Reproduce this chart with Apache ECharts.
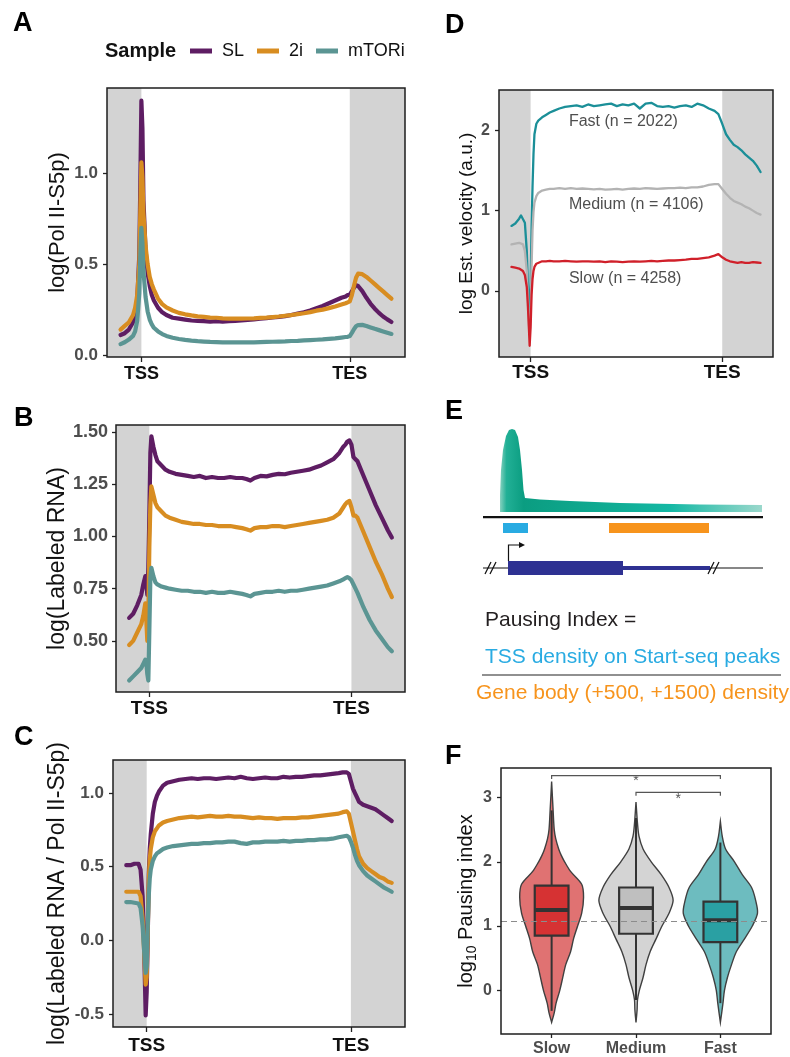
<!DOCTYPE html>
<html>
<head>
<meta charset="utf-8">
<script src="https://cdn.jsdelivr.net/npm/echarts@6/dist/echarts.min.js"></script>
<style>
  html, body { margin: 0; padding: 0; background: #ffffff; }
  #chart { width: 790px; height: 1057px; }
</style>
</head>
<body>
<div id="chart"></div>
<script>
const FONT = '"Liberation Sans", Arial, Helvetica, sans-serif';

// ---- Metagene coordinates: TSS = 0, TES = 100 (scaled gene body) ----
const X_MIN = -16.5, X_MAX = 126.5;
const edgeTicks = [0, 100];
const edgeLabels = ['TSS', 'TES'];
const flankStart = [X_MIN, 100];
const flankEnd = [0, X_MAX];
const samples = ['SL', '2i', 'mTORi'];
const sampleColors = ['#5e1d63', '#d88d21', '#5b9593'];

// Panel A: Pol II-S5p
const posA = [-10,-8,-6,-4,-3,-2,-1,-0.5,0,0.5, 1,2,3,4,5,6,8,10,12,15, 18,21,24,27,30,33,36,39,42,45, 48,51,54,57,60,63,66,69,72,75, 78,81,84,87,90,93,96,98,99,100, 101,102,103,104,106,108,110,112,114,116, 118,120];
const polA_SL = [0.11,0.12,0.14,0.18,0.22,0.30,0.55,0.95,1.40,1.25, 0.85,0.58,0.45,0.38,0.33,0.30,0.26,0.235,0.22,0.205, 0.20,0.195,0.19,0.188,0.186,0.184,0.186,0.183,0.186,0.188, 0.19,0.193,0.196,0.2,0.203,0.207,0.21,0.214,0.22,0.228, 0.235,0.245,0.258,0.27,0.285,0.30,0.315,0.322,0.33,0.332, 0.35,0.37,0.385,0.38,0.352,0.315,0.282,0.255,0.232,0.212, 0.196,0.182];
const polA_2i = [0.14,0.16,0.18,0.22,0.26,0.33,0.50,0.80,1.06,0.98, 0.78,0.60,0.50,0.43,0.39,0.36,0.31,0.28,0.262,0.245, 0.232,0.224,0.218,0.213,0.21,0.206,0.205,0.202,0.2,0.201, 0.2,0.201,0.202,0.204,0.206,0.209,0.212,0.216,0.22,0.225, 0.23,0.236,0.244,0.25,0.258,0.267,0.278,0.285,0.29,0.295, 0.33,0.38,0.425,0.448,0.445,0.43,0.41,0.39,0.37,0.35, 0.33,0.31];
const polA_mT = [0.06,0.07,0.085,0.105,0.13,0.19,0.34,0.55,0.70,0.62, 0.46,0.32,0.24,0.195,0.168,0.15,0.13,0.115,0.105,0.095, 0.088,0.083,0.079,0.076,0.074,0.072,0.071,0.07,0.07,0.07, 0.07,0.07,0.07,0.071,0.072,0.073,0.074,0.075,0.077,0.078, 0.08,0.082,0.084,0.086,0.089,0.092,0.096,0.099,0.1,0.104, 0.122,0.142,0.158,0.165,0.166,0.16,0.152,0.144,0.137,0.13, 0.123,0.116];

// Panel B: labeled RNA
const posB = [-10,-8,-6,-4,-3,-2,-1.5,-1,-0.5,0, 0.5,1,2,3,4,6,8,10,13,16, 19,22,25,28,31,34,37,40,43,46, 48,50,52,55,58,61,64,67,70,73, 76,79,82,85,88,91,94,96,97,98, 99,100,101,102,103,106,109,112,115,118, 120];
const rnaB_SL = [0.61,0.63,0.67,0.72,0.77,0.81,0.78,0.72,0.85,1.10, 1.40,1.48,1.43,1.39,1.36,1.34,1.32,1.31,1.30,1.295, 1.29,1.285,1.29,1.28,1.285,1.28,1.28,1.285,1.28,1.28, 1.275,1.268,1.28,1.29,1.288,1.295,1.30,1.298,1.305,1.31, 1.315,1.32,1.33,1.34,1.355,1.37,1.40,1.43,1.44,1.455, 1.46,1.44,1.38,1.37,1.36,1.29,1.22,1.15,1.09,1.03, 0.995];
const rnaB_2i = [0.48,0.50,0.54,0.58,0.62,0.68,0.60,0.50,0.62,0.95, 1.15,1.24,1.20,1.16,1.14,1.12,1.10,1.09,1.08,1.07, 1.065,1.06,1.06,1.055,1.055,1.05,1.05,1.05,1.045,1.04, 1.035,1.028,1.04,1.045,1.045,1.05,1.05,1.045,1.05,1.055, 1.06,1.065,1.07,1.075,1.08,1.09,1.11,1.14,1.155,1.165, 1.17,1.14,1.10,1.10,1.09,1.02,0.95,0.88,0.82,0.75, 0.71];
const rnaB_mT = [0.31,0.33,0.35,0.37,0.39,0.41,0.40,0.34,0.31,0.55, 0.80,0.85,0.81,0.78,0.77,0.76,0.755,0.75,0.745,0.74, 0.74,0.735,0.735,0.73,0.735,0.73,0.73,0.735,0.73,0.725, 0.72,0.713,0.725,0.73,0.735,0.735,0.74,0.735,0.74,0.74, 0.745,0.75,0.755,0.76,0.765,0.775,0.785,0.795,0.80,0.805, 0.80,0.79,0.77,0.75,0.73,0.66,0.60,0.55,0.51,0.47, 0.45];

// Panel C: labeled RNA / Pol II-S5p
const posC = [-10,-8,-6,-4,-3,-2,-1.5,-1,-0.5,0, 0.5,1,1.5,2,3,4,5,6,8,10, 13,16,19,22,25,28,31,34,37,40, 43,46,49,52,55,58,61,64,67,70, 73,76,79,82,85,88,91,94,96,98, 99,100,101,102,103,104,106,108,110,112, 114,116,118,120];
const ratC_SL = [0.51,0.51,0.52,0.52,0.48,0.30,0.10,-0.2,-0.51,-0.35, 0.0,0.45,0.62,0.72,0.86,0.94,0.98,1.01,1.05,1.07, 1.08,1.09,1.095,1.10,1.095,1.10,1.10,1.095,1.10,1.105, 1.10,1.11,1.10,1.095,1.10,1.105,1.10,1.10,1.11,1.105, 1.11,1.11,1.115,1.12,1.12,1.125,1.13,1.135,1.14,1.14, 1.13,1.08,1.03,1.00,0.97,0.94,0.92,0.91,0.90,0.89, 0.87,0.85,0.83,0.81];
const ratC_2i = [0.33,0.33,0.33,0.33,0.30,0.15,0.0,-0.15,-0.30,-0.25, 0.05,0.40,0.55,0.62,0.70,0.74,0.76,0.78,0.80,0.81, 0.82,0.83,0.835,0.84,0.835,0.84,0.845,0.84,0.84,0.845, 0.84,0.84,0.835,0.83,0.835,0.83,0.83,0.825,0.83,0.83, 0.83,0.835,0.835,0.84,0.845,0.85,0.855,0.86,0.87,0.875, 0.86,0.80,0.74,0.68,0.62,0.57,0.52,0.49,0.47,0.45, 0.43,0.42,0.40,0.39];
const ratC_mT = [0.26,0.26,0.255,0.25,0.22,0.10,-0.02,-0.12,-0.22,-0.18, 0.1,0.30,0.42,0.48,0.54,0.57,0.59,0.60,0.62,0.63, 0.64,0.645,0.65,0.655,0.655,0.66,0.66,0.665,0.665,0.67, 0.67,0.66,0.655,0.665,0.665,0.67,0.67,0.67,0.675,0.67, 0.675,0.675,0.68,0.68,0.685,0.685,0.69,0.70,0.705,0.71, 0.70,0.67,0.63,0.58,0.54,0.51,0.47,0.44,0.42,0.40, 0.38,0.36,0.345,0.33];

// Panel D: estimated elongation velocity by gene class
const velClasses = ['Fast', 'Medium', 'Slow'];
const velColors = ['#1b8f98', '#b3b3b3', '#d0202a'];
const velLabels = ['Fast (n = 2022)', 'Medium (n = 4106)', 'Slow (n = 4258)'];
const velLabelX = [20, 20, 20];
const velLabelY = [2.11, 1.07, 0.15];
const posD = [-10,-8,-6,-5,-4,-3,-2,-1.5,-1,-0.5, 0,0.5,1,1.5,2,3,4,6,8,10, 12,15,18,21,24,27,30,33,36,39, 42,45,48,51,54,57,60,63,66,69, 72,75,78,81,84,87,90,93,96,98, 100,102,104,106,108,110,112,114,116,118, 120];
const velFast = [0.81,0.84,0.90,0.94,0.93,0.85,0.50,0.15,-0.20,-0.28, 0.1,0.8,1.3,1.7,1.95,2.08,2.12,2.16,2.19,2.22, 2.24,2.27,2.29,2.30,2.31,2.29,2.32,2.30,2.31,2.32, 2.33,2.30,2.32,2.31,2.33,2.27,2.33,2.34,2.30,2.29, 2.30,2.28,2.30,2.31,2.29,2.33,2.31,2.27,2.24,2.20, 2.08,1.95,1.88,1.82,1.79,1.75,1.70,1.66,1.62,1.56, 1.48];
const velMed = [0.58,0.59,0.60,0.60,0.58,0.50,0.25,-0.05,-0.40,-0.55, -0.3,0.3,0.75,0.98,1.10,1.18,1.22,1.25,1.26,1.27, 1.27,1.28,1.27,1.28,1.27,1.275,1.27,1.265,1.27,1.26, 1.265,1.27,1.26,1.27,1.275,1.27,1.28,1.275,1.27,1.275, 1.28,1.28,1.285,1.28,1.29,1.29,1.30,1.32,1.33,1.33, 1.27,1.21,1.16,1.12,1.10,1.08,1.05,1.03,1.00,0.97, 0.95];
const velSlow = [0.30,0.29,0.28,0.27,0.25,0.20,0.05,-0.15,-0.40,-0.68, -0.45,-0.05,0.15,0.25,0.30,0.34,0.36,0.37,0.37,0.375, 0.37,0.37,0.375,0.37,0.365,0.37,0.37,0.365,0.37,0.36, 0.37,0.365,0.36,0.365,0.37,0.365,0.37,0.375,0.37,0.375, 0.38,0.38,0.385,0.39,0.40,0.40,0.41,0.42,0.44,0.46, 0.42,0.39,0.37,0.36,0.35,0.36,0.35,0.35,0.36,0.355, 0.35];

// Panel F: pausing index distributions (violin half-widths relative to widest)
const pauseCats = ['Slow', 'Medium', 'Fast'];
const violinFill = ['#e07272', '#d4d4d4', '#6dbcbf'];
const boxFill = ['#d63233', '#bfbfbf', '#2aa0a3'];
const slowLevels = [-0.5,-0.35,-0.2,0,0.2,0.4,0.6,0.8,1.0,1.2,1.45,1.65,1.85,2.0,2.1,2.2,2.36,2.5,2.8,3.25];
const slowDens   = [0,0.07,0.12,0.22,0.30,0.38,0.51,0.59,0.70,0.81,0.86,0.81,0.51,0.35,0.26,0.19,0.11,0.07,0.04,0];
const medLevels  = [-0.5,-0.3,-0.15,0,0.2,0.4,0.6,0.8,1.0,1.2,1.4,1.6,1.8,2.0,2.2,2.4,2.6,2.93];
const medDens    = [0,0.03,0.04,0.09,0.19,0.27,0.38,0.54,0.70,0.89,1.0,0.89,0.68,0.41,0.19,0.08,0.04,0];
const fastLevels = [-0.5,-0.2,0,0.2,0.4,0.6,0.8,1.0,1.2,1.4,1.6,1.8,2.0,2.2,2.4,2.63];
const fastDens   = [0,0.07,0.11,0.19,0.30,0.43,0.65,0.86,1.0,0.95,0.84,0.59,0.38,0.14,0.05,0];
// box stats: lower whisker, Q1, median, Q3, upper whisker
const boxLow  = [-0.32, -0.15, -0.2];
const boxQ1   = [0.85, 0.88, 0.75];
const boxMed  = [1.25, 1.28, 1.09];
const boxQ3   = [1.63, 1.60, 1.38];
const boxHigh = [2.8, 2.68, 2.3];
const pauseRef = 1.07;
// significance brackets: from, to, height, star height
const brFrom = [1, 2];
const brTo = [3, 3];
const brY = [3.34, 3.08];
const brStarY = [3.25, 2.98];

const violinSets = [[slowLevels, slowDens], [medLevels, medDens], [fastLevels, fastDens]];
const VIOLIN_HALF = 0.44;
const BOX_HALF = 0.2;

// ---------- helpers ----------
function zip(xs, ys) { return xs.map((x, i) => [x, ys[i]]); }

function edgeXAxis(gi, fs, margin) {
  return {
    type: 'value', gridIndex: gi, min: X_MIN, max: X_MAX,
    axisLine: { show: false, onZero: false }, splitLine: { show: false },
    axisTick: { show: true, customValues: edgeTicks, length: 5, lineStyle: { color: '#222', width: 1.3 } },
    axisLabel: {
      customValues: edgeTicks, margin: margin,
      formatter: v => edgeLabels[edgeTicks.indexOf(v)],
      fontFamily: FONT, fontWeight: 'bold', fontSize: fs, color: '#111'
    }
  };
}

function valueYAxis(gi, min, max, ticks, digits, fs, margin, name, nameFs, nameGap, rich) {
  const ax = {
    type: 'value', gridIndex: gi, min: min, max: max,
    axisLine: { show: false, onZero: false }, splitLine: { show: false },
    axisTick: { show: true, customValues: ticks, length: 4, lineStyle: { color: '#222', width: 1.3 } },
    axisLabel: {
      customValues: ticks, margin: margin,
      formatter: v => v.toFixed(digits),
      fontFamily: FONT, fontWeight: 'bold', fontSize: fs, color: '#4d4d4d'
    },
    name: name, nameLocation: 'middle', nameGap: nameGap,
    nameTextStyle: { fontFamily: FONT, fontSize: nameFs, color: '#111' }
  };
  if (rich) ax.nameTextStyle.rich = rich;
  return ax;
}

// grey flanks (upstream of TSS, downstream of TES)
function flankSeries(gi, yMin, yMax) {
  return {
    type: 'custom', name: 'flank' + gi, xAxisIndex: gi, yAxisIndex: gi, z: 1, silent: true,
    data: flankStart.map((s, i) => [s, flankEnd[i]]),
    renderItem: function (params, api) {
      const a = api.coord([api.value(0), yMax]);
      const b = api.coord([api.value(1), yMin]);
      return { type: 'rect', shape: { x: a[0], y: a[1], width: b[0] - a[0], height: b[1] - a[1] }, style: { fill: '#d3d3d3' } };
    }
  };
}

function profile(gi, name, color, pos, ys, width) {
  return {
    type: 'line', name: name, xAxisIndex: gi, yAxisIndex: gi, data: zip(pos, ys),
    symbol: 'none', smooth: false, z: 3,
    lineStyle: { color: color, width: width, cap: 'round', join: 'round' },
    itemStyle: { color: color },
    emphasis: { disabled: true }
  };
}

const gridBase = { show: true, borderColor: '#1e1e1e', borderWidth: 1.5, backgroundColor: 'transparent', z: 10 };

// y ranges of the four profile panels
const yRangeA = [-0.011, 1.47];
const yRangeB = [0.255, 1.534];
const yRangeC = [-0.588, 1.224];
const yRangeD = [-0.82, 2.5];

// ---------- panel E schematic ----------
const densityOutline = [[500,512],[500,495],[501,470],[503,450],[506,436],[509,430],[512,429],[515,430],[518,437],[520,450],[522,470],[523.5,490],[525,498],[540,499.5],[570,501],[620,503],[700,504.5],[762,505],[762,512]];
const schematic = [
  {
    type: 'polygon', z: 5,
    shape: { points: densityOutline },
    style: {
      fill: {
        type: 'linear', x: 0, y: 0, x2: 1, y2: 0,
        colorStops: [
          { offset: 0, color: '#86d1bf' }, { offset: 0.025, color: '#22b096' },
          { offset: 0.09, color: '#0b9d81' }, { offset: 0.45, color: '#10ad95' },
          { offset: 0.65, color: '#14b8a4' }, { offset: 1, color: '#9bd8cc' }
        ]
      }
    }
  },
  { type: 'rect', z: 5, shape: { x: 483, y: 516, width: 280, height: 2.2 }, style: { fill: '#111' } },
  { type: 'rect', z: 5, shape: { x: 503, y: 523, width: 25, height: 10 }, style: { fill: '#29abe2' } },
  { type: 'rect', z: 5, shape: { x: 609, y: 523, width: 100, height: 10 }, style: { fill: '#f7941d' } },
  { type: 'line', z: 5, shape: { x1: 483, y1: 568, x2: 763, y2: 568 }, style: { stroke: '#111', lineWidth: 1.2 } },
  { type: 'rect', z: 6, shape: { x: 508, y: 561, width: 115, height: 14 }, style: { fill: '#2e3192' } },
  { type: 'rect', z: 6, shape: { x: 623, y: 566, width: 87, height: 4 }, style: { fill: '#2e3192' } },
  { type: 'line', z: 7, shape: { x1: 485, y1: 574, x2: 491, y2: 562 }, style: { stroke: '#111', lineWidth: 1.2 } },
  { type: 'line', z: 7, shape: { x1: 490, y1: 574, x2: 496, y2: 562 }, style: { stroke: '#111', lineWidth: 1.2 } },
  { type: 'line', z: 7, shape: { x1: 708, y1: 574, x2: 714, y2: 562 }, style: { stroke: '#111', lineWidth: 1.2 } },
  { type: 'line', z: 7, shape: { x1: 713, y1: 574, x2: 719, y2: 562 }, style: { stroke: '#111', lineWidth: 1.2 } },
  { type: 'polyline', z: 7, shape: { points: [[508.5, 561], [508.5, 545], [520, 545]] }, style: { stroke: '#111', lineWidth: 1.2, fill: null } },
  { type: 'polygon', z: 7, shape: { points: [[519, 542], [525, 545], [519, 548]] }, style: { fill: '#111' } },
  { type: 'text', z: 7, x: 485, y: 620, style: { text: 'Pausing Index =', fontFamily: FONT, fontSize: 21, fill: '#231f20', verticalAlign: 'middle' } },
  { type: 'text', z: 7, x: 485, y: 657, style: { text: 'TSS density on Start-seq peaks', fontFamily: FONT, fontSize: 21, fill: '#29abe2', verticalAlign: 'middle' } },
  { type: 'line', z: 7, shape: { x1: 482, y1: 675, x2: 781, y2: 675 }, style: { stroke: '#222', lineWidth: 1.2 } },
  { type: 'text', z: 7, x: 476, y: 693, style: { text: 'Gene body (+500, +1500) density', fontFamily: FONT, fontSize: 21, fill: '#f7941d', verticalAlign: 'middle' } }
];

const letters = [['A', 13, 24], ['B', 14, 419], ['C', 14, 738], ['D', 445, 26], ['E', 445, 412], ['F', 445, 757]].map(l => ({
  type: 'text', z: 20, x: l[1], y: l[2],
  style: { text: l[0], fontFamily: FONT, fontWeight: 'bold', fontSize: 27, fill: '#000', verticalAlign: 'middle' }
}));

const legendTitle = {
  type: 'text', z: 20, x: 105, y: 51,
  style: { text: 'Sample', fontFamily: FONT, fontWeight: 'bold', fontSize: 20, fill: '#111', verticalAlign: 'middle' }
};

// ---------- series ----------
const series = [];
[yRangeA, yRangeB, yRangeC, yRangeD].forEach((r, gi) => series.push(flankSeries(gi, r[0], r[1])));
const abc = [[posA, [polA_SL, polA_2i, polA_mT]], [posB, [rnaB_SL, rnaB_2i, rnaB_mT]], [posC, [ratC_SL, ratC_2i, ratC_mT]]];
abc.forEach((panel, gi) => {
  panel[1].forEach((ys, si) => series.push(profile(gi, samples[si], sampleColors[si], panel[0], ys, 4.2)));
});
[velFast, velMed, velSlow].forEach((ys, si) => series.push(profile(3, velClasses[si], velColors[si], posD, ys, 2.3)));
series.push({
  type: 'scatter', name: 'velLabels', xAxisIndex: 3, yAxisIndex: 3, z: 4, silent: true,
  symbolSize: 0,
  data: velLabels.map((t, i) => ({ value: [velLabelX[i], velLabelY[i]], name: t })),
  label: {
    show: true, position: [0, 0], align: 'left', verticalAlign: 'middle',
    formatter: p => p.name, fontFamily: FONT, fontSize: 16, color: '#222'
  }
});

// violins with boxplots
series.push({
  type: 'custom', name: 'violins', xAxisIndex: 4, yAxisIndex: 4, z: 3,
  data: pauseCats.map((c, i) => [i + 1, boxMed[i]]),
  renderItem: function (params, api) {
    const i = params.dataIndex;
    const cx = i + 1;
    const lv = violinSets[i][0], dn = violinSets[i][1];
    const pts = [];
    for (let k = 0; k < lv.length; k++) pts.push(api.coord([cx + dn[k] * VIOLIN_HALF, lv[k]]));
    for (let k = lv.length - 1; k >= 0; k--) pts.push(api.coord([cx - dn[k] * VIOLIN_HALF, lv[k]]));
    const c0 = api.coord([cx, 0]);
    const lowP = api.coord([cx, boxLow[i]]), q1P = api.coord([cx, boxQ1[i]]);
    const q3P = api.coord([cx, boxQ3[i]]), hiP = api.coord([cx, boxHigh[i]]);
    const tl = api.coord([cx - BOX_HALF, boxQ3[i]]), br = api.coord([cx + BOX_HALF, boxQ1[i]]);
    const mL = api.coord([cx - BOX_HALF, boxMed[i]]), mR = api.coord([cx + BOX_HALF, boxMed[i]]);
    return {
      type: 'group',
      children: [
        { type: 'polygon', shape: { points: pts, smooth: 0.3 }, style: { fill: violinFill[i], stroke: '#404040', lineWidth: 1.4 } },
        { type: 'line', shape: { x1: c0[0], y1: lowP[1], x2: c0[0], y2: q1P[1] }, style: { stroke: '#333', lineWidth: 2 } },
        { type: 'line', shape: { x1: c0[0], y1: q3P[1], x2: c0[0], y2: hiP[1] }, style: { stroke: '#333', lineWidth: 2 } },
        { type: 'rect', shape: { x: tl[0], y: tl[1], width: br[0] - tl[0], height: br[1] - tl[1] }, style: { fill: boxFill[i], stroke: '#333', lineWidth: 2.2 } },
        { type: 'line', shape: { x1: mL[0], y1: mL[1], x2: mR[0], y2: mR[1] }, style: { stroke: '#333', lineWidth: 4 } }
      ]
    };
  },
  markLine: {
    silent: true, symbol: 'none', label: { show: false },
    lineStyle: { color: '#8c8c8c', type: [6, 4], width: 1.2 },
    data: [{ yAxis: pauseRef }]
  }
});

series.push({
  type: 'custom', name: 'signif', xAxisIndex: 4, yAxisIndex: 4, z: 4, silent: true,
  data: brFrom.map((f, i) => [f, brY[i]]),
  renderItem: function (params, api) {
    const i = params.dataIndex;
    const a = api.coord([brFrom[i], brY[i]]), b = api.coord([brTo[i], brY[i]]);
    const a2 = api.coord([brFrom[i], brY[i] - 0.05]), b2 = api.coord([brTo[i], brY[i] - 0.05]);
    const s = api.coord([(brFrom[i] + brTo[i]) / 2, brStarY[i]]);
    return {
      type: 'group',
      children: [
        { type: 'polyline', shape: { points: [a2, a, b, b2] }, style: { stroke: '#555', lineWidth: 1.2, fill: null } },
        { type: 'text', x: s[0], y: s[1], style: { text: '*', fontFamily: FONT, fontSize: 14, fill: '#555', align: 'center', verticalAlign: 'middle' } }
      ]
    };
  }
});

const option = {
  animation: false,
  backgroundColor: '#ffffff',
  legend: {
    left: 190, top: 42, padding: 0, itemWidth: 22, itemHeight: 5, itemGap: 13, icon: 'rect',
    data: samples, selectedMode: false,
    textStyle: { fontFamily: FONT, fontSize: 18, color: '#111', padding: [0, 0, 0, 5] }
  },
  grid: [
    Object.assign({ left: 107, top: 88, width: 298, height: 269 }, gridBase),
    Object.assign({ left: 116, top: 425, width: 289, height: 267 }, gridBase),
    Object.assign({ left: 113, top: 760, width: 292, height: 267 }, gridBase),
    Object.assign({ left: 499, top: 90, width: 274, height: 267 }, gridBase),
    Object.assign({ left: 501, top: 768, width: 270, height: 269 }, gridBase)
  ],
  xAxis: [
    edgeXAxis(0, 18, 8),
    edgeXAxis(1, 19, 7),
    edgeXAxis(2, 19, 9),
    edgeXAxis(3, 19, 6),
    {
      type: 'value', gridIndex: 4, min: 0.4, max: 3.6,
      axisLine: { show: false, onZero: false }, splitLine: { show: false },
      axisTick: { show: true, customValues: [1, 2, 3], length: 4, lineStyle: { color: '#222', width: 1.3 } },
      axisLabel: {
        customValues: [1, 2, 3], margin: 7,
        formatter: v => pauseCats[v - 1],
        fontFamily: FONT, fontWeight: 'bold', fontSize: 16, color: '#4d4d4d'
      }
    }
  ],
  yAxis: [
    valueYAxis(0, yRangeA[0], yRangeA[1], [0, 0.5, 1.0], 1, 17, 9, 'log(Pol II-S5p)', 22, 38),
    valueYAxis(1, yRangeB[0], yRangeB[1], [0.5, 0.75, 1.0, 1.25, 1.5], 2, 18, 8, 'log(Labeled RNA)', 23, 47),
    valueYAxis(2, yRangeC[0], yRangeC[1], [-0.5, 0, 0.5, 1.0], 1, 17, 9, 'log(Labeled RNA / Pol II-S5p)', 23, 44),
    valueYAxis(3, yRangeD[0], yRangeD[1], [0, 1, 2], 0, 16, 9, 'log Est. velocity (a.u.)', 19, 23),
    valueYAxis(4, -0.68, 3.46, [0, 1, 2, 3], 0, 16, 9, '{a|log}{b|10}{a| Pausing index}', 20, 22, {
      a: { fontFamily: FONT, fontSize: 20, color: '#111', lineHeight: 26, verticalAlign: 'middle' },
      b: { fontFamily: FONT, fontSize: 14, color: '#111', lineHeight: 26, verticalAlign: 'bottom' }
    })
  ],
  graphic: { elements: schematic.concat(letters, [legendTitle]) },
  series: series
};

const chart = echarts.init(document.getElementById('chart'), null, { renderer: 'canvas' });
chart.setOption(option);
</script>
</body>
</html>
